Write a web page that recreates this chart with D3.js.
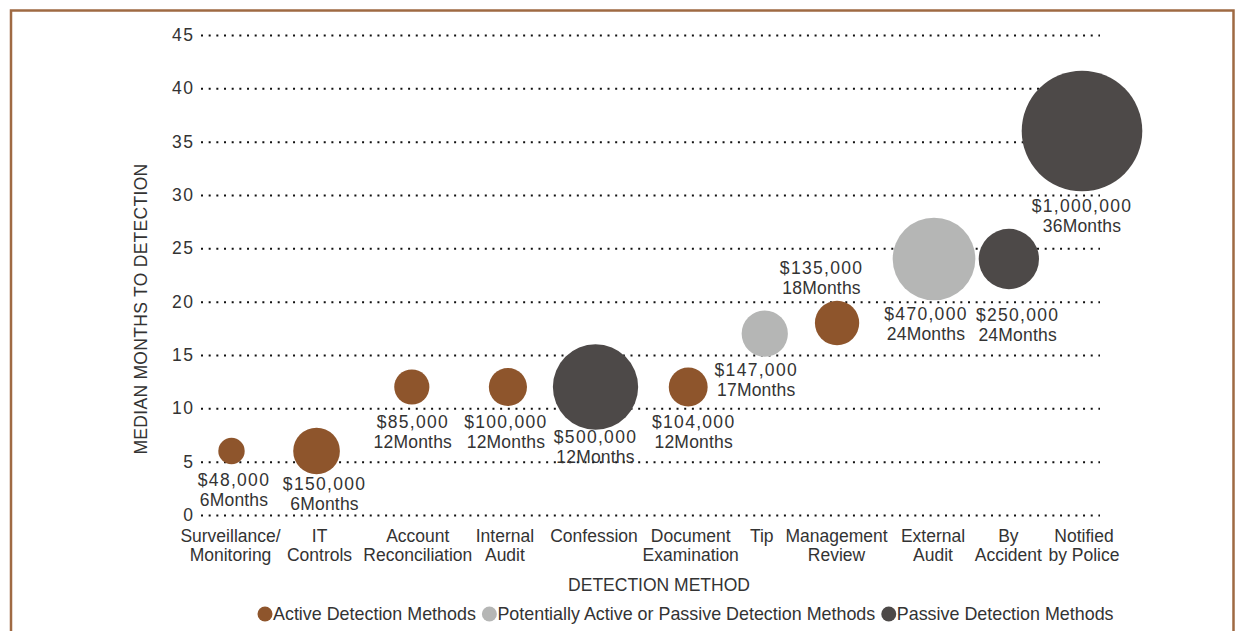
<!DOCTYPE html>
<html>
<head>
<meta charset="utf-8">
<script src="https://cdn.jsdelivr.net/npm/d3@7"></script>
<style>
  html, body { margin: 0; padding: 0; background: #fff; }
  svg { display: block; }
  text { font-family: "Liberation Sans", Arial, Helvetica, sans-serif; fill: #333; }
</style>
</head>
<body>
<svg id="chart" width="1236" height="631"></svg>
<script>
// Detection methods, in the order they are plotted left to right
const categories = [
  "Surveillance/\nMonitoring", "IT\nControls", "Account\nReconciliation", "Internal\nAudit",
  "Confession", "Document\nExamination", "Tip", "Management\nReview",
  "External\nAudit", "By\nAccident", "Notified\nby Police"
];
// Horizontal slot of each method along the axis
const slots = [1, 2.0, 3.12, 4.25, 5.28, 6.37, 7.27, 8.12, 9.26, 10.14, 11];
// Median months to detection
const months = [6, 6, 12, 12, 12, 12, 17, 18, 24, 24, 36];
// Median loss (bubble size)
const losses = [48000, 150000, 85000, 100000, 500000, 104000, 147000, 135000, 470000, 250000, 1000000];
// Detection type of each method
const methodTypes = ["active", "active", "active", "active", "passive", "active",
                     "potential", "active", "potential", "passive", "passive"];
const yTicks = [0, 5, 10, 15, 20, 25, 30, 35, 40, 45];

const legendItems = [
  { key: "active", label: "Active Detection Methods" },
  { key: "potential", label: "Potentially Active or Passive Detection Methods" },
  { key: "passive", label: "Passive Detection Methods" }
];

// Layout: where each value label sits relative to its bubble centre
const labelOffsets = [
  [2.5, 29], [8, 33], [1, 35], [-2, 35], [0, 50], [5.5, 34.5],
  [-8.5, 36], [-15.5, -55], [-8, 54.5], [8.8, 55.5], [0, 75]
];
// Small horizontal nudges for the category captions
const captionNudge = [-1, 3, 6, -3, -1.5, 2.5, -3, -0.5, -1, -0.5, 2];

const colors = { active: "#8e552c", potential: "#b5b6b5", passive: "#4d4948" };

const svg = d3.select("#chart");

// Frame
const frameColor = "#9f6a43";
svg.append("path")
  .attr("d", "M11,631 V10.5 H1233.5 V631")
  .attr("fill", "none")
  .attr("stroke", frameColor)
  .attr("stroke-width", 2.5);

const plot = { left: 201, right: 1100, top: 35, bottom: 515 };

const x = d3.scaleLinear().domain([1, 11]).range([231.5, 1082]);
const y = d3.scaleLinear().domain([0, 45]).range([plot.bottom, plot.top]);
const r = d3.scaleSqrt().domain([0, 1000000]).range([0, 60.3]);

// Y axis with dotted gridlines
const yAxis = d3.axisLeft(y)
  .tickValues(yTicks)
  .tickSize(-(plot.right - plot.left))
  .tickPadding(6.5)
  .tickFormat(d3.format("d"));

const gy = svg.append("g")
  .attr("transform", `translate(${plot.left},0)`)
  .call(yAxis);
gy.select(".domain").remove();
gy.selectAll(".tick line")
  .attr("stroke", "#111")
  .attr("stroke-width", 2)
  .attr("stroke-dasharray", "2,5.67");
gy.selectAll(".tick text")
  .attr("font-family", "Liberation Sans, Arial, sans-serif")
  .attr("font-size", 17.5)
  .attr("letter-spacing", 1.5)
  .attr("fill", "#333");

// Axis titles
svg.append("text")
  .attr("transform", "translate(147,309) rotate(-90)")
  .attr("text-anchor", "middle")
  .attr("font-size", 17.5)
  .attr("letter-spacing", 0.3)
  .text("MEDIAN MONTHS TO DETECTION");

svg.append("text")
  .attr("x", 659)
  .attr("y", 590.5)
  .attr("text-anchor", "middle")
  .attr("font-size", 17.5)
  .text("DETECTION METHOD");

// Category captions
const data = categories.map((c, i) => ({
  name: c, slot: slots[i], months: months[i], loss: losses[i], type: methodTypes[i],
  off: labelOffsets[i], nudge: captionNudge[i]
}));

const captions = svg.append("g").selectAll("text")
  .data(data)
  .join("text")
  .attr("text-anchor", "middle")
  .attr("font-size", 17.5)
  .attr("x", d => x(d.slot) + d.nudge)
  .attr("y", 541.5);
captions.each(function (d) {
  const lines = d.name.split("\n");
  d3.select(this).selectAll("tspan")
    .data(lines)
    .join("tspan")
    .attr("x", x(d.slot) + d.nudge)
    .attr("dy", (l, j) => j === 0 ? 0 : 19.5)
    .text(l => l);
});

// Bubbles
svg.append("g").selectAll("circle")
  .data(data)
  .join("circle")
  .attr("cx", d => x(d.slot))
  .attr("cy", d => y(d.months))
  .attr("r", d => r(d.loss))
  .attr("fill", d => colors[d.type]);

// Value labels
const fmtMoney = d3.format("$,");
const vl = svg.append("g").selectAll("g")
  .data(data)
  .join("g")
  .attr("transform", d => `translate(${x(d.slot) + d.off[0]},${y(d.months) + d.off[1]})`);
vl.append("text")
  .attr("text-anchor", "middle")
  .attr("font-size", 17.5)
  .attr("letter-spacing", 1.3)
  .attr("y", 6.3)
  .text(d => fmtMoney(d.loss));
vl.append("text")
  .attr("text-anchor", "middle")
  .attr("font-size", 17.5)
  .attr("letter-spacing", 0.2)
  .attr("y", 26.3)
  .text(d => d.months + "Months");

// Legend
const legend = svg.append("g").attr("transform", "translate(0,614)");
let cursor = 257.5;
legendItems.forEach(item => {
  legend.append("circle")
    .attr("cx", cursor + 7.5)
    .attr("cy", 0)
    .attr("r", 7.5)
    .attr("fill", colors[item.key]);
  const t = legend.append("text")
    .attr("x", cursor + 15.5)
    .attr("y", 6.3)
    .attr("font-size", 17.9)
    .text(item.label);
  cursor = cursor + 15.5 + t.node().getComputedTextLength() + 6;
});
</script>
</body>
</html>
